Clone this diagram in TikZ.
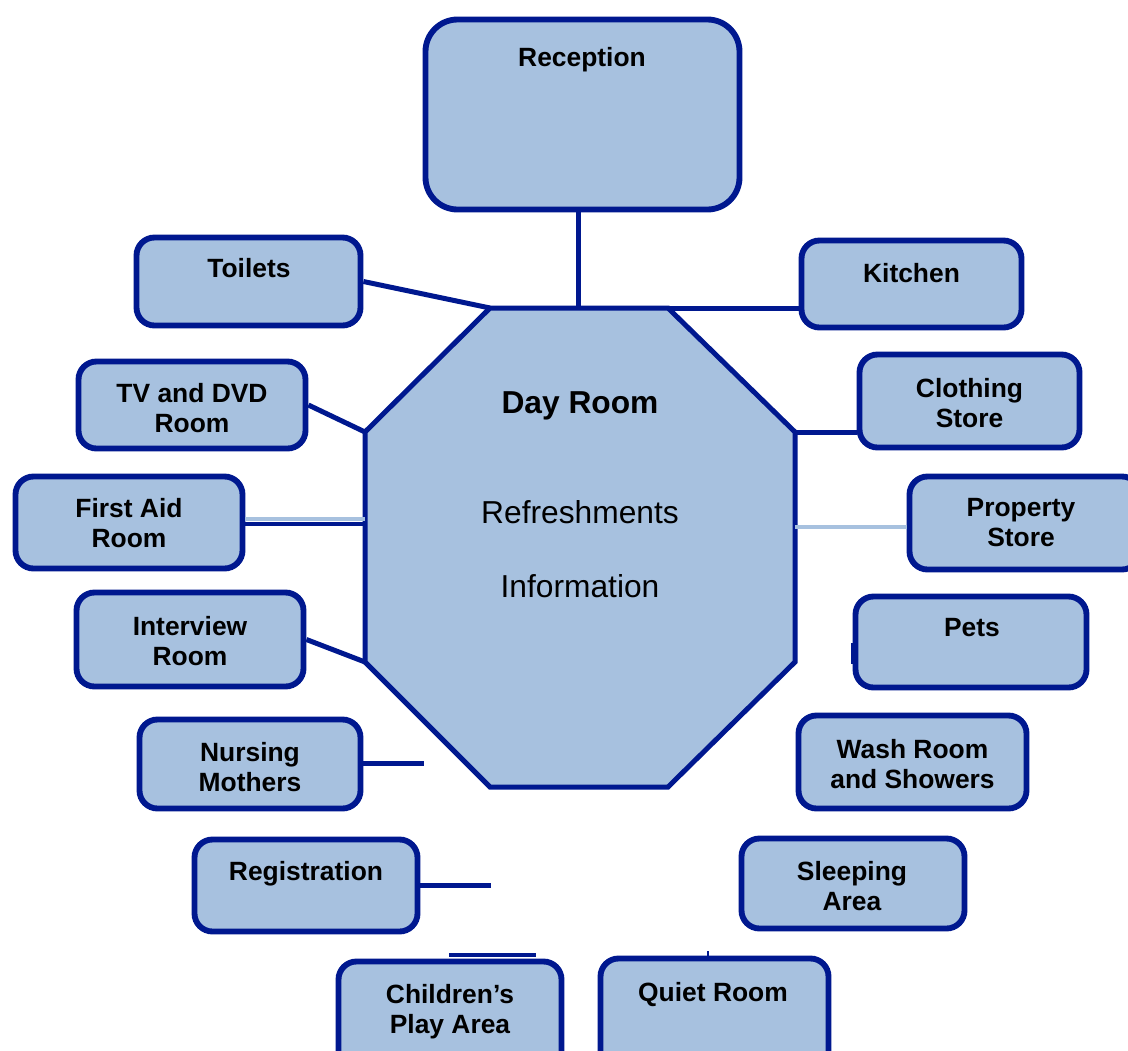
\documentclass[tikz,border=0pt]{standalone}
\usepackage{fontspec}
\setmainfont{Liberation Sans}
\usetikzlibrary{fit,backgrounds}
\definecolor{roomfill}{RGB}{167,193,223}
\definecolor{roomline}{RGB}{0,24,143}
\begin{document}
\begin{tikzpicture}[x=0.75pt,y=-0.75pt,
  room/.style={draw=roomline, fill=roomfill, line width=4.4pt, rounded corners=13.5pt, inner sep=0pt},
  bigroom/.style={room, rounded corners=24pt},
  lbl/.style={font=\bfseries\fontsize{19.8}{22.6}\selectfont, align=center, inner sep=0pt, anchor=north},
  hall/.style={font=\fontsize{23.8}{26}\selectfont, inner sep=0pt, anchor=base},
  link/.style={draw=roomline, line width=3.75pt},
  pale/.style={draw=roomfill, line width=2.4pt},
  stub/.style={draw=roomline, line width=2.2pt}]
\useasboundingbox (0,0) rectangle (1128,1050);
\clip (0,0) rectangle (1128,1050);

% corner points of the day room octagon
\coordinate (oNW) at (490,308);
\coordinate (oNE) at (668,308);
\coordinate (oEN) at (795,432);
\coordinate (oES) at (795,662);
\coordinate (oSE) at (668,787);
\coordinate (oSW) at (490,787);
\coordinate (oWS) at (365,662);
\coordinate (oWN) at (365,432);
\coordinate (oTop) at (578,308);

% day room
\path[draw=roomline, fill=roomfill, line width=3.75pt]
  (oNW) -- (oNE) -- (oEN) -- (oES) -- (oSE) -- (oSW) -- (oWS) -- (oWN) -- cycle;
\node[hall, font=\bfseries\fontsize{23.8}{26}\selectfont] (dayT) at (580,413) {Day Room};
\node[hall] (refT) at (580,523) {Refreshments};
\node[hall] (infT) at (580,597) {Information};

% rooms around the day room
\node[bigroom, fit={(425.5,19.5) (739.5,209.5)}] (rec) {};
\node[room, fit={(136.5,237.5) (360.5,325.5)}] (toilets) {};
\node[room, fit={(801.5,240.5) (1021.5,327.5)}] (kitchen) {};
\node[room, fit={(78.5,361.5) (305.5,448.5)}] (tv) {};
\node[room, fit={(859.5,354.5) (1079.5,447.5)}] (clothing) {};
\node[room, fit={(15.5,476.5) (242.5,568.5)}] (firstaid) {};
\node[room, fit={(909.5,476.5) (1140,569.5)}] (property) {};
\node[room, fit={(76.5,592.5) (303.5,686.5)}] (interview) {};
\node[room, fit={(855.5,596.5) (1086.5,687.5)}] (pets) {};
\node[room, fit={(139.5,719.5) (360.5,808.5)}] (nursing) {};
\node[room, fit={(798.5,715.5) (1026.5,808.5)}] (wash) {};
\node[room, fit={(194.5,839.5) (417.5,931.5)}] (registration) {};
\node[room, fit={(741.5,838.5) (964.5,928.5)}] (sleeping) {};
\node[room, fit={(338.5,961.5) (561.5,1075)}] (children) {};
\node[room, fit={(600.5,958.5) (828.5,1075)}] (quiet) {};

% room names
\node[lbl] (recT) at (582,47) {Reception};
\node[lbl] (toiletsT) at (249,258) {Toilets};
\node[lbl] (kitchenT) at (911.5,263) {Kitchen};
\node[lbl] (tvT) at (192,383) {TV and DVD\\Room};
\node[lbl] (clothingT) at (969.5,378) {Clothing\\Store};
\node[lbl] (firstaidT) at (129,498) {First Aid\\Room};
\node[lbl] (propertyT) at (1021,498) {Property\\Store};
\node[lbl] (interviewT) at (190,616) {Interview\\Room};
\node[lbl] (petsT) at (972,618) {Pets};
\node[lbl] (nursingT) at (250,742) {Nursing\\Mothers};
\node[lbl] (washT) at (912.5,739) {Wash Room\\and Showers};
\node[lbl] (registrationT) at (306,861) {Registration};
\node[lbl] (sleepingT) at (852,861) {Sleeping\\Area};
\node[lbl] (childrenT) at (450,984) {Children’s\\Play Area};
\node[lbl] (quietT) at (713,982) {Quiet Room};

% loose ends of the short links
\coordinate (faDark) at (365,524);
\coordinate (faPale) at (365,519);
\coordinate (prPale) at (795,527);
\coordinate (nurEnd) at (424,763);
\coordinate (regEnd) at (491,885);
\coordinate (chA) at (449,955);
\coordinate (chB) at (536,955);
\coordinate (qtA) at (708,951);
\coordinate (qtB) at (708,955.5);
\coordinate (ptA) at (852,643);
\coordinate (ptB) at (852,664);

% links
\begin{scope}[on background layer]
  \draw[link] (oTop |- rec.south) -- (oTop);
  \draw[link] (toilets.east) -- (oNW);
  \draw[link] (oNE) -- (oNE -| kitchen.west);
  \draw[link] (tv.east) -- (oWN);
  \draw[link] (oEN) -- (oEN -| clothing.west);
  \draw[link, line width=3.2pt] (faDark -| firstaid.east) -- (faDark);
  \draw[link] (interview.east) -- (oWS);
  \draw[link] (nursing.east |- nurEnd) -- (nurEnd);
  \draw[link] (registration.east |- regEnd) -- (regEnd);
\end{scope}
\draw[pale] (faPale -| firstaid.east) -- (faPale);
\draw[pale] (prPale) -- (prPale -| property.west);
\draw[stub] (ptA) -- (ptB);
\draw[stub, line width=3pt] (chA) -- (chB);
\draw[stub, line width=1pt] (qtA) -- (qtB);
\end{tikzpicture}
\end{document}
